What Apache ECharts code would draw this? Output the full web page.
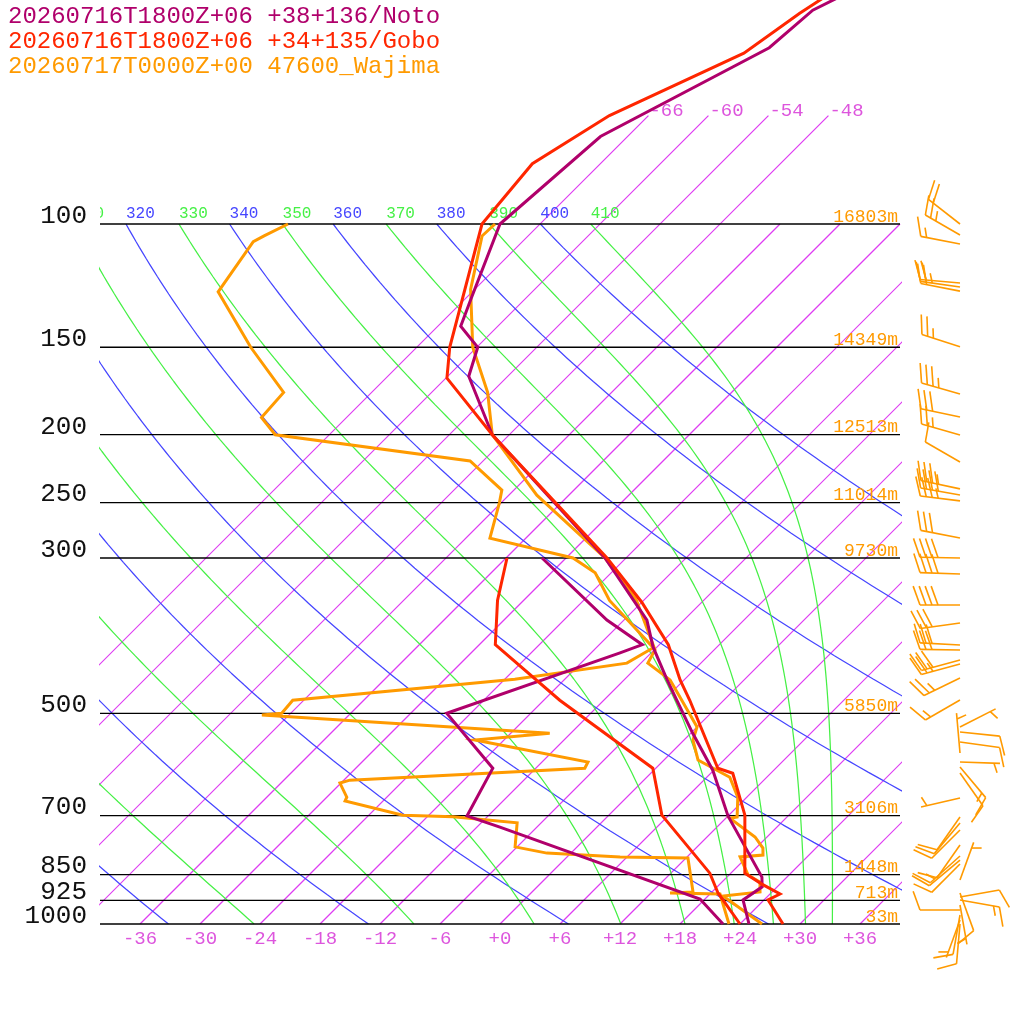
<!DOCTYPE html>
<html><head><meta charset="utf-8">
<script src="https://cdn.jsdelivr.net/npm/echarts@6/dist/echarts.min.js"></script>
<style>html,body{margin:0;padding:0;background:#fff}#c{width:1024px;height:1024px}</style>
</head><body><div id="c"></div>
<script>
// ---------------- data ----------------
const titleLines = ['20260716T1800Z+06 +38+136/Noto', '20260716T1800Z+06 +34+135/Gobo', '20260717T0000Z+00 47600_Wajima'];

const notoTempP = [1000, 924, 885, 857, 701, 603, 534, 479, 448, 402, 368, 300, 200, 165, 150, 140, 128, 100, 75, 56, 49.5, 45];
const notoTemp  = [24.9, 21.9, 22.5, 21.5, 12.0, 5.9, 0.2, -4.7, -7.7, -12.4, -15.7, -26.1, -49.7, -57.9, -59.9, -63.7, -65.4, -70.0, -68.7, -60.7, -60.1, -57.2];
const notoDewP  = [1000, 921, 727, 701, 599, 500, 410, 399, 368, 300];
const notoDew   = [22.3, 17.5, -9.7, -14.1, -16.3, -26.4, -15.1, -13.7, -19.7, -32.4];

const goboTempP = [1000, 924, 906, 877, 846, 699, 609, 599, 479, 448, 399, 347, 300, 200, 166, 150, 100, 82, 70, 57, 50, 45];
const goboTemp  = [28.3, 24.4, 25.0, 22.2, 19.4, 13.6, 8.2, 6.2, -3.4, -6.4, -11.1, -18.0, -25.9, -49.7, -59.9, -62.7, -71.8, -72.8, -69.9, -62.7, -61.1, -59.4];
const goboDewP  = [1000, 903, 846, 699, 599, 479, 399, 345, 300];
const goboDew   = [24.0, 18.7, 15.9, 5.3, -0.3, -16.4, -28.4, -32.6, -35.9];

const wajimaTempP = [1000, 912, 900, 871, 851, 802, 797, 779, 751, 706, 703, 659, 617, 583, 546, 523, 479, 448, 424, 406, 345, 300, 244, 200, 174, 150, 124, 104, 100];
const wajimaTemp  = [26.2, 19.5, 22.8, 21.8, 19.9, 17.3, 19.4, 18.7, 16.8, 12.4, 13.0, 11.1, 8.3, 3.4, 0.9, 0.0, -4.2, -7.4, -11.3, -11.9, -18.7, -26.1, -39.2, -49.7, -54.4, -60.4, -66.4, -70.6, -70.5];
const wajimaDewP  = [1000, 906, 903, 900, 805, 802, 792, 776, 717, 703, 699, 667, 659, 629, 623, 599, 587, 546, 534, 503, 500, 479, 447, 424, 403, 345, 315, 300, 281, 250, 240, 218, 200, 189, 174, 150, 125, 106, 104, 100];
const wajimaDew   = [22.9, 19.0, 13.9, 16.1, 12.2, 5.3, -2.4, -6.2, -8.4, -15.4, -20.6, -27.8, -28.0, -30.1, -29.4, -7.1, -7.4, -20.9, -14.1, -44.7, -42.9, -43.1, -23.0, -13.4, -12.3, -21.4, -25.6, -29.3, -39.6, -42.2, -43.2, -49.3, -71.4, -74.5, -74.8, -82.6, -91.4, -92.9, -92.4, -91.2];

// Wajima winds: pressure (hPa), direction (deg), speed (kt)
const windP   = [100, 103.7, 106.8, 121.4, 123.0, 124.7, 149.8, 174.9, 188.7, 200.2, 218.8, 239.0, 243.8, 248.6, 280.9, 300, 316.2, 350.1, 371.5, 399.4, 406.1, 419.7, 425.3, 445.3, 478.6, 523.1, 531.7, 549.5, 569.7, 586.9, 596.6, 608.6, 660.7, 703.3, 717.3, 734.0, 771.3, 799.5, 810.2, 821.0, 865.2, 903.1, 915.1, 924.1, 939.4, 955.0, 970.8, 986.9, 1000];
const windDir = [308, 300, 281, 275, 278, 281, 288, 286, 282, 286, 300, 282, 280, 277, 281, 271, 272, 270, 262, 273, 271, 255, 255, 244, 240, 63, 96, 98, 355, 92, 140, 145, 257, 215, 220, 225, 215, 228, 230, 225, 20, 160, 80, 100, 170, 270, 190, 200, 185];
const windSpd = [20, 25, 15, 20, 25, 20, 25, 35, 30, 25, 10, 35, 40, 35, 30, 40, 40, 40, 30, 30, 30, 30, 25, 25, 15, 5, 10, 10, 5, 5, 15, 10, 5, 10, 10, 10, 10, 15, 10, 10, 5, 10, 10, 15, 5, 10, 10, 5, 10];

const isobarLevels = [1000, 925, 850, 700, 500, 300, 250, 200, 150, 100];
const heightLabels = [33, 713, 1448, 3106, 5850, 9730, 11014, 12513, 14349, 16803];
const tempTicks = [-36, -30, -24, -18, -12, -6, 0, 6, 12, 18, 24, 30, 36];
const isothermValues = [-66, -60, -54, -48, -42, -36, -30, -24, -18, -12, -6, 0, 6, 12, 18, 24, 30, 36];
const isothermLabelled = [-66, -60, -54, -48];
const dryThetas = [240, 260, 280, 300, 320, 340, 360, 380, 400];
const dryLabelled = [320, 340, 360, 380, 400];
const moistThetas = [250, 270, 290, 310, 330, 350, 370, 390, 410];
const moistLabelled = [310, 330, 350, 370, 390, 410];

// ---------------- helpers ----------------
const SKEW = 70;               // skew: degC per decade of pressure
const toX = (T, p) => T + SKEW * Math.log10(1000 / p);
const FONT = '"Liberation Mono", monospace';
const C_NOTO = 'rgb(176,0,107)', C_GOBO = 'rgb(255,38,0)', C_WAJ = 'rgb(255,154,0)';
const C_ISO = 'rgb(222,60,242)', C_LBL = 'rgb(221,85,221)', C_DRY = 'rgb(70,70,255)', C_MOIST = 'rgb(70,240,70)';
const P_TOP = 1000 / Math.pow(10, 924 / 700);

function pLevels(pTop, pBot, n) { const a = []; for (let i = 0; i <= n; i++) a.push(pTop * Math.pow(pBot / pTop, i / n)); return a; }
function dryT(theta, p) { return theta * Math.pow(p / 1000, 0.2857) - 273.15; }
function thetaE(TK, p) {
  const Tc = TK - 273.15;
  const es = 6.112 * Math.exp(17.67 * Tc / (Tc + 243.5));
  if (es > 0.5 * p) return 1e9;
  const r = 622 * es / (p - es);
  return TK * Math.pow(1000 / p, 0.2854 * (1 - 0.00028 * r)) * Math.exp((3.376 / TK - 0.00254) * r * (1 + 0.00081 * r));
}
function moistT(te, p) {
  let lo = 120, hi = 345;
  for (let i = 0; i < 50; i++) { const m = (lo + hi) / 2; if (thetaE(m, p) > te) hi = m; else lo = m; }
  return (lo + hi) / 2 - 273.15;
}
const profile = (P, T) => P.map((p, i) => [toX(T[i], p), p]);

// ---------------- series ----------------
const series = [];
const bg = (data, color, z, w) => ({ type: 'line', data, symbol: 'none', silent: true, clip: true, z, color,
  itemStyle: { color }, lineStyle: { color, width: w, opacity: 1 }, animation: false });

// isotherms (straight in skew/log-p space)
isothermValues.forEach(T => {
  const top = T <= -48 ? 70 : 100;
  series.push(bg([[toX(T, 1000), 1000], [toX(T, top), top]], C_ISO, 1, 1.2));
});
const pl = pLevels(100, 1000, 120);
dryThetas.forEach(th => series.push(bg(pl.map(p => [toX(dryT(th, p), p), p]), C_DRY, 1, 1.25)));
moistThetas.forEach(te => series.push(bg(pl.map(p => [toX(moistT(te, p), p), p]), C_MOIST, 1, 1.25)));

// isobars + labels + heights
series.push({
  type: 'custom', z: 3, silent: true, animation: false, clip: false,
  encode: { x: 0, y: 1 },
  data: isobarLevels.map((p, i) => [-40, p, heightLabels[i]]),
  renderItem(params, api) {
    const p = api.value(1), h = api.value(2);
    const a = api.coord([-40, p]), b = api.coord([40, p]);
    return { type: 'group', children: [
      { type: 'line', shape: { x1: a[0], y1: a[1], x2: b[0], y2: b[1] }, style: { stroke: 'rgb(0,0,0)', lineWidth: 1.3 } },
      { type: 'text', x: a[0] - 13, y: a[1] - 8, style: { text: String(p), fill: 'rgb(17,17,17)', font: '26px ' + FONT, align: 'right', verticalAlign: 'middle' } },
      { type: 'text', x: b[0] - 2, y: a[1] - 7, style: { text: h + 'm', fill: C_WAJ, font: '18px ' + FONT, align: 'right', verticalAlign: 'middle' } }
    ] };
  }
});

// theta labels at 100 hPa and isotherm labels at top (clipped to plot)
const thetaLabelData = dryLabelled.map(th => [toX(dryT(th, 100), 100), 100, th, 0])
  .concat(moistLabelled.map(te => [toX(moistT(te, 100), 100), 100, te, 1]));
series.push({
  type: 'custom', z: 4, silent: true, animation: false, clip: true,
  encode: { x: 0, y: 1 }, data: thetaLabelData,
  renderItem(params, api) {
    const c = api.coord([api.value(0), api.value(1)]);
    return { type: 'text', x: c[0], y: c[1] - 10, style: { text: String(api.value(2)), fill: api.value(3) ? C_MOIST : C_DRY,
      font: '16px ' + FONT, align: 'left', verticalAlign: 'middle' } };
  }
});
series.push({
  type: 'custom', z: 4, silent: true, animation: false, clip: true,
  encode: { x: 0, y: 1 }, data: isothermLabelled.map(T => [toX(T, 70), 70, T]),
  renderItem(params, api) {
    const c = api.coord([api.value(0), api.value(1)]);
    return { type: 'text', x: c[0] + 1, y: c[1] - 5, style: { text: String(api.value(2)), fill: C_LBL,
      font: '19px ' + FONT, align: 'left', verticalAlign: 'middle' } };
  }
});

// profiles
const prof = (data, color) => ({ type: 'line', data, symbol: 'none', clip: true, z: 5, silent: true, animation: false,
  color, itemStyle: { color }, lineStyle: { color, width: 3, join: 'miter' } });
series.push(prof(profile(wajimaDewP, wajimaDew), C_WAJ));
series.push(prof(profile(wajimaTempP, wajimaTemp), C_WAJ));
series.push(prof(profile(notoDewP, notoDew), C_NOTO));
series.push(prof(profile(notoTempP, notoTemp), C_NOTO));
series.push(prof(profile(goboDewP, goboDew), C_GOBO));
series.push(prof(profile(goboTempP, goboTemp), C_GOBO));

// wind barbs
series.push({
  type: 'custom', z: 6, silent: true, animation: false, clip: false,
  encode: { x: 0, y: 1 },
  data: windP.map((p, i) => [40, p, windDir[i], windSpd[i]]),
  renderItem(params, api) {
    const c = api.coord([40, api.value(1)]);
    const bx = c[0] + 60, by = c[1];
    const th = api.value(2) * Math.PI / 180;
    const ux = Math.sin(th), uy = -Math.cos(th);
    const L = 40, F = 20, S = 6, a = 70 * Math.PI / 180;
    const fx = ux * Math.cos(a) - uy * Math.sin(a), fy = ux * Math.sin(a) + uy * Math.cos(a);
    const st = { stroke: C_WAJ, lineWidth: 1.6 };
    const ch = [{ type: 'line', shape: { x1: bx, y1: by, x2: bx + ux * L, y2: by + uy * L }, style: st }];
    let spd = api.value(3);
    let n10 = Math.floor(spd / 10), n5 = Math.round((spd - n10 * 10) / 5);
    let pos = L;
    if (n10 === 0 && n5 > 0) pos = L - S;
    for (let k = 0; k < n10; k++) {
      const px = bx + ux * pos, py = by + uy * pos;
      ch.push({ type: 'line', shape: { x1: px, y1: py, x2: px + fx * F, y2: py + fy * F }, style: st });
      pos -= S;
    }
    for (let k = 0; k < n5; k++) {
      const px = bx + ux * pos, py = by + uy * pos;
      ch.push({ type: 'line', shape: { x1: px, y1: py, x2: px + fx * F / 2, y2: py + fy * F / 2 }, style: st });
      pos -= S;
    }
    return { type: 'group', children: ch };
  }
});

const chart = echarts.init(document.getElementById('c'), null, { renderer: 'canvas' });
chart.setOption({
  animation: false,
  backgroundColor: '#fff',
  title: titleLines.map((t, i) => ({ text: t, left: 8, top: 5 + i * 25, padding: 0,
    textStyle: { fontFamily: FONT, fontSize: 24, fontWeight: 'normal', color: [C_NOTO, C_GOBO, C_WAJ][i] } })),
  grid: { left: 100, right: 124, top: 0, bottom: 100, containLabel: false, outerBoundsMode: 'none' },
  xAxis: { type: 'value', min: -40, max: 40,
    axisLine: { show: false }, axisTick: { show: false }, splitLine: { show: false },
    axisLabel: { customValues: tempTicks, margin: 5, color: C_LBL, fontFamily: FONT, fontSize: 19,
      formatter: v => (v >= 0 ? '+' + v : String(v)) } },
  yAxis: { type: 'log', logBase: 10, min: P_TOP, max: 1000, inverse: true,
    axisLine: { show: false }, axisTick: { show: false }, splitLine: { show: false }, axisLabel: { show: false } },
  series
});
</script>
</body></html>
